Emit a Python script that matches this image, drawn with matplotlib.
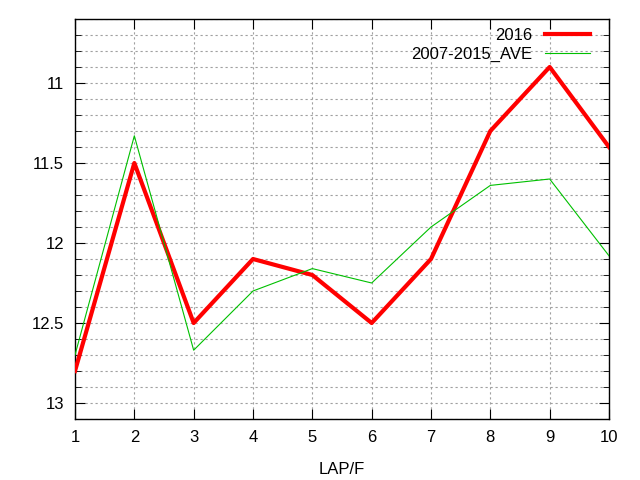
import numpy as np
import matplotlib.pyplot as plt
from matplotlib.ticker import MultipleLocator

laps = [1, 2, 3, 4, 5, 6, 7, 8, 9, 10]
y2016 = [12.8, 11.5, 12.5, 12.1, 12.2, 12.5, 12.1, 11.3, 10.9, 11.4]
ave = [12.7, 11.33, 12.67, 12.3, 12.16, 12.25, 11.9, 11.64, 11.6, 12.08]

plt.rcParams['font.family'] = ['Liberation Sans', 'DejaVu Sans']

fig = plt.figure(figsize=(6.4, 4.8), dpi=100)
ax = fig.add_axes([75 / 640, 61 / 480, 534 / 640, 400 / 480])

ax.plot(laps, y2016, color='#ff0000', lw=3, label='2016', zorder=3)
ax.plot(laps, ave, color='#00c000', lw=0.8, label='2007-2015_AVE', zorder=3)

ax.set_xlim(1, 10)
ax.set_ylim(13.1, 10.6)
ax.set_xticks(laps)
ax.yaxis.set_major_locator(MultipleLocator(0.5))
ax.yaxis.set_minor_locator(MultipleLocator(0.1))
ax.set_yticks([11, 11.5, 12, 12.5, 13])
ax.set_yticklabels(['11', '11.5', '12', '12.5', '13'])

ax.grid(which='both', color='#a0a0a0', linestyle=(0, (2, 2.5)), lw=0.8)
ax.tick_params(which='both', direction='in', top=True, right=True,
               labelsize=12, pad=8, colors='black')
ax.tick_params(which='major', length=7)
ax.tick_params(which='minor', length=4)
for s in ax.spines.values():
    s.set_linewidth(1.0)

ax.set_xlabel('LAP/F', fontsize=12, labelpad=12)

leg = ax.legend(loc='upper right', bbox_to_anchor=(0.971, 0.985),
                frameon=False, markerfirst=False,
                fontsize=12, handlelength=2.7, borderaxespad=0.0,
                borderpad=0.2, labelspacing=0.2, handletextpad=0.8)

fig.savefig('out.png', dpi=100)
